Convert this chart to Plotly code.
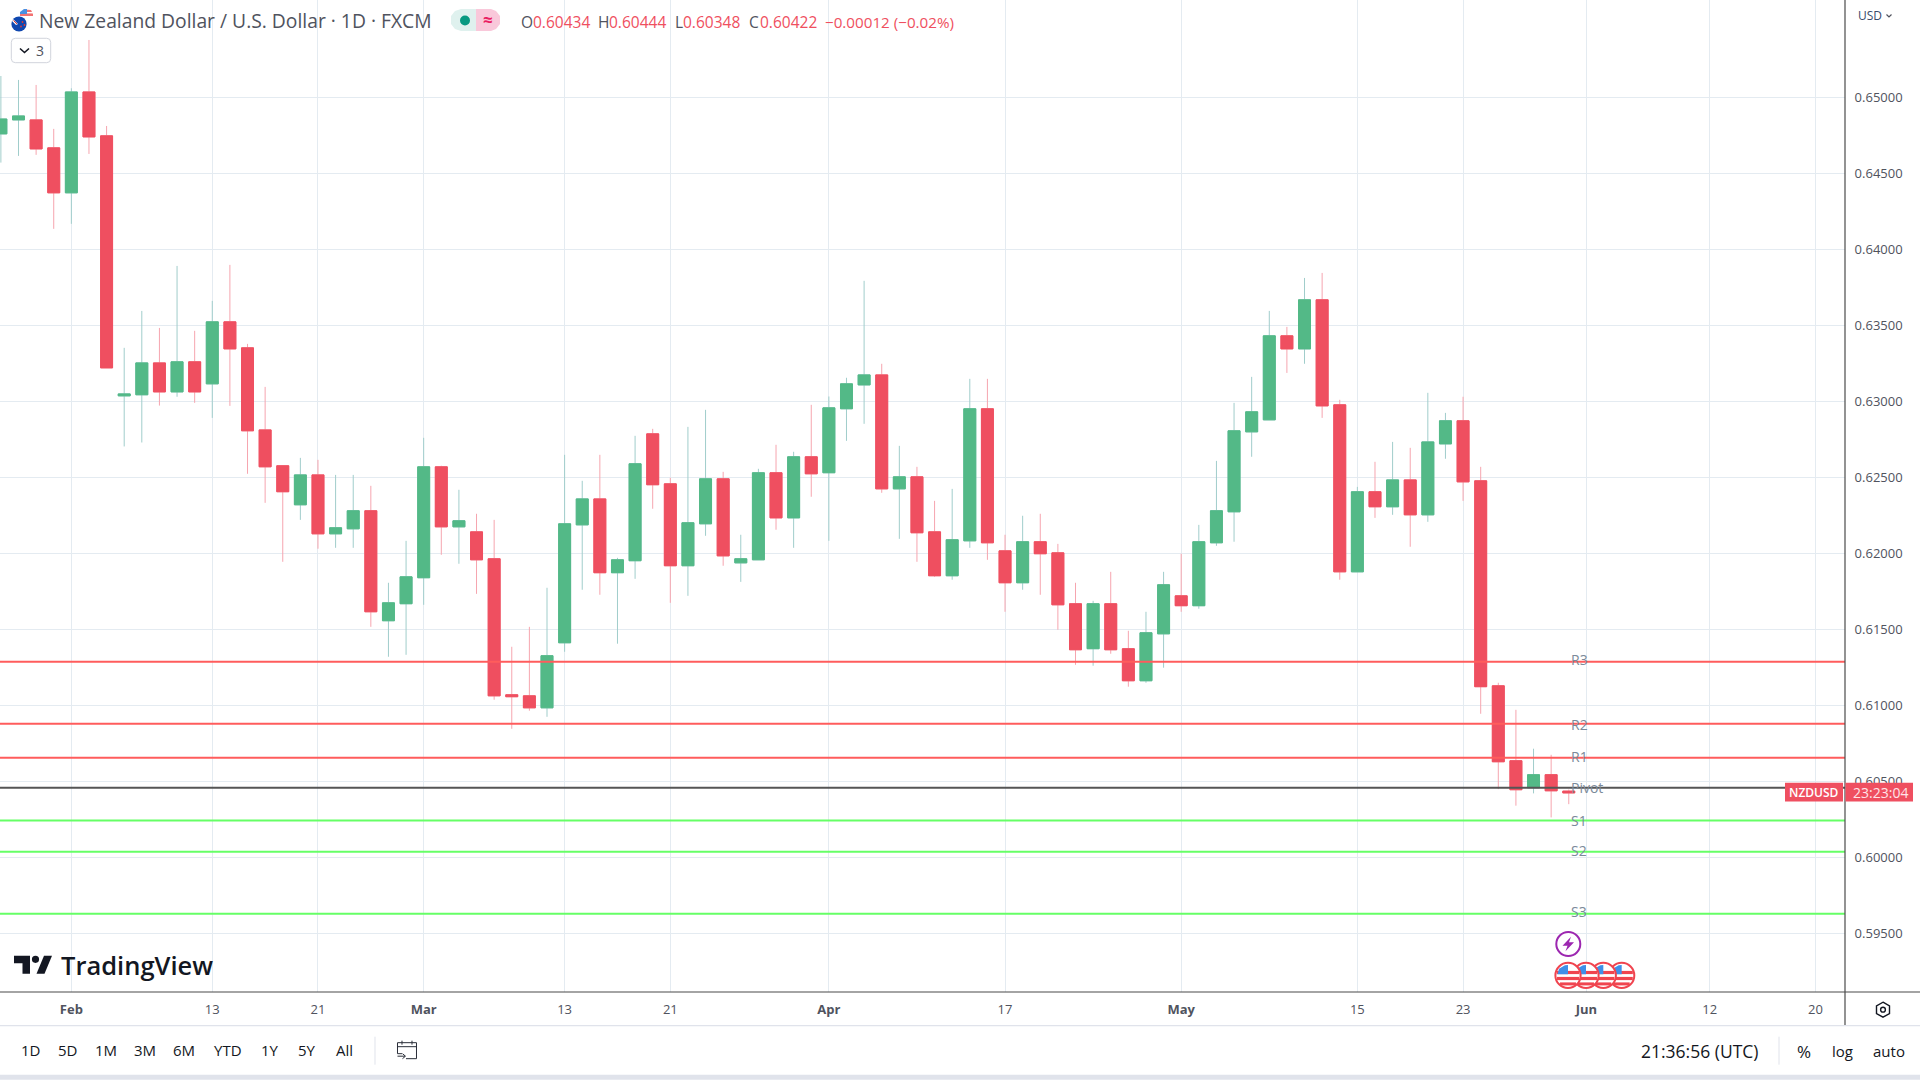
import numpy as np
import plotly.graph_objects as go

# ---------- data (prices) ----------
open_prices = [.64759,.64851,.64851,.64667,.64371,.65035,.64746,.63035,.63042,.63252,.63061,.63259,.63114,.63522,.63351,.62811,.62575,.62318,.62515,.62127,.62160,.62279,.61555,.61667,.61838,.62568,.62173,.62140,.61963,.61068,.61061,.60982,.61410,.62186,.62357,.61871,.61950,.62785,.62456,.61917,.62193,.62489,.61936,.61956,.62529,.62232,.62634,.62529,.62950,.63107,.63173,.62423,.62502,.62140,.61851,.62081,.62950,.62015,.61805,.62075,.62002,.61667,.61371,.61667,.61371,.61160,.61469,.61719,.61654,.62068,.62272,.62798,.62877,.63430,.63344,.63667,.62976,.61877,.62404,.62305,.62482,.62252,.62719,.62871,.62476,.61127,.60634,.60456,.60542,.60434]
high_prices = [.65140,.65114,.65081,.64792,.65059,.65377,.64811,.63351,.63594,.63482,.63890,.63463,.63660,.63897,.63377,.63094,.62575,.62627,.62614,.62515,.62515,.62443,.61805,.62081,.62759,.62575,.62417,.62259,.62219,.61384,.61515,.61772,.62647,.62476,.62647,.61969,.62772,.62818,.62496,.62831,.62943,.62535,.62121,.62555,.62713,.62667,.62976,.63031,.63154,.63792,.63246,.62706,.62568,.62344,.62423,.63147,.63147,.62121,.62246,.62259,.62061,.61805,.61686,.61877,.61489,.61614,.61877,.61996,.62186,.62607,.62989,.63160,.63594,.63489,.63811,.63844,.63009,.62436,.62601,.62732,.62693,.63055,.62923,.63029,.62568,.61147,.60969,.60713,.60673,.60444]
low_prices = [.64570,.64614,.64621,.64134,.64167,.64627,.63219,.62702,.62728,.62971,.63029,.62989,.62890,.62969,.62522,.62331,.61943,.62219,.62029,.62035,.62035,.61515,.61318,.61331,.61660,.61989,.61930,.61732,.61035,.60844,.60963,.60923,.61351,.61759,.61726,.61404,.61831,.62292,.61673,.61719,.62114,.61917,.61811,.61956,.62154,.62035,.62371,.62081,.62739,.62851,.62397,.62094,.61943,.61844,.61825,.62035,.61956,.61614,.61759,.61726,.61496,.61265,.61259,.61338,.61121,.61147,.61246,.61614,.61634,.62048,.62075,.62634,.62877,.63186,.63246,.62890,.61825,.61877,.62232,.62252,.62042,.62206,.62621,.62344,.60943,.60447,.60338,.60419,.60261,.60348]
close_prices = [.64857,.64877,.64660,.64371,.65035,.64739,.63219,.63048,.63252,.63061,.63259,.63061,.63522,.63344,.62805,.62568,.62404,.62515,.62127,.62167,.62279,.61614,.61673,.61844,.62568,.62173,.62213,.61956,.61061,.61055,.60982,.61325,.62193,.62357,.61871,.61956,.62588,.62450,.61917,.62200,.62489,.61982,.61963,.62529,.62232,.62634,.62522,.62956,.63114,.63173,.62423,.62502,.62134,.61851,.62088,.62950,.62068,.61805,.62075,.61996,.61660,.61364,.61667,.61364,.61160,.61476,.61792,.61654,.62075,.62279,.62805,.62930,.63430,.63344,.63667,.62969,.61877,.62404,.62305,.62482,.62252,.62732,.62871,.62469,.61121,.60627,.60443,.60542,.60436,.60422]

level_names = ["R3", "R2", "R1", "Pivot", "S1", "S2", "S3"]
level_values = [0.61285, 0.60877, 0.60653, 0.60456, 0.60241, 0.60035, 0.59627]

x_tick_sessions = [0, 8, 14, 20, 28, 34, 43, 53, 63, 73, 79, 86, 93, 99]
x_tick_labels = ["<b>Feb</b>", "13", "21", "<b>Mar</b>", "13", "21", "<b>Apr</b>", "17", "<b>May</b>", "15", "23", "<b>Jun</b>", "12", "20"]
y_tick_values = [0.595, 0.600, 0.605, 0.610, 0.615, 0.620, 0.625, 0.630, 0.635, 0.640, 0.645, 0.650]

range_buttons = ["1D", "5D", "1M", "3M", "6M", "YTD", "1Y", "5Y", "All"]
range_button_x = [30, 67, 106, 145, 184, 228, 270, 307, 344]

# ---------- style ----------
FONT = "Open Sans"
GREEN, RED = "#53B987", "#EF4F60"
GREEN_WICK, RED_WICK = "#A0CDCB", "#F6A5AF"
GRID = "#E4EBF1"
PW, PH = 1845.0, 992.3
sessions = np.arange(len(close_prices)) - 4
x_range = [-4.05, 100.68]
y_range = [0.59112, 0.65640]


def X(p):
    return p / PW


def Y(p):
    return 1 - p / PH


shapes, notes = [], []


def note(text, x, y, size=13, color="#50535E", anchor="center", weight=None):
    f = dict(family=FONT, size=size, color=color)
    if weight:
        f["weight"] = weight
    notes.append(dict(text=text, x=X(x), y=Y(y), xref="paper", yref="paper", xanchor=anchor, yanchor="middle",
                      showarrow=False, font=f, borderpad=0, borderwidth=0))


def rect(x0, y0, x1, y1, fill, line=None, lw=0):
    shapes.append(dict(type="rect", xref="paper", yref="paper", x0=X(x0), x1=X(x1), y0=Y(y0), y1=Y(y1),
                       fillcolor=fill, line=dict(color=line or fill, width=lw)))


def circle(cx, cy, r, fill, line=None, lw=0):
    shapes.append(dict(type="circle", xref="paper", yref="paper", x0=X(cx - r), x1=X(cx + r), y0=Y(cy - r), y1=Y(cy + r),
                       fillcolor=fill, line=dict(color=line or fill, width=lw)))


def poly(pts, fill=None, line=None, lw=0, close=True):
    d = "M" + " L".join(f"{X(a):.6f},{Y(b):.6f}" for a, b in pts) + (" Z" if close else "")
    shapes.append(dict(type="path", xref="paper", yref="paper", path=d, fillcolor=fill or "rgba(0,0,0,0)",
                       line=dict(color=line or "rgba(0,0,0,0)", width=lw)))


def hline(x0, x1, y, color, lw=1):
    poly([(x0, y), (x1, y)], line=color, lw=lw, close=False)


def vline(x, y0, y1, color, lw=1):
    poly([(x, y0), (x, y1)], line=color, lw=lw, close=False)


# ---------- figure ----------
fig = go.Figure()

for name, value in zip(level_names, level_values):
    color = "#FF5C5C" if name.startswith("R") else "#66FF66" if name.startswith("S") else "#555555"
    fig.add_trace(go.Scatter(x=x_range, y=[value, value], mode="lines", line=dict(color=color, width=2),
                             hoverinfo="skip", showlegend=False, name=name))

fig.add_trace(go.Candlestick(x=sessions, open=open_prices, high=high_prices, low=low_prices, close=close_prices,
                             increasing=dict(line=dict(color=GREEN_WICK, width=1), fillcolor=GREEN),
                             decreasing=dict(line=dict(color=RED_WICK, width=1), fillcolor=RED),
                             showlegend=False, name="wicks"))
body_top = np.maximum(open_prices, close_prices)
body_bottom = np.minimum(open_prices, close_prices)
fig.add_trace(go.Candlestick(x=sessions, open=open_prices, high=body_top, low=body_bottom, close=close_prices,
                             increasing=dict(line=dict(color=GREEN, width=1), fillcolor=GREEN),
                             decreasing=dict(line=dict(color=RED, width=1), fillcolor=RED),
                             showlegend=False, name="NZDUSD"))

# frame lines and bands
hline(0, 1920, 992.3, "#4A4A4A", 1.2)
vline(1845, 0, 1026, "#4A4A4A", 1.2)
hline(0, 1920, 1026, "#E0E3EB", 1.2)
rect(0, 1075, 1920, 1080, "#E0E3EB")
vline(375, 1037, 1065, "#E0E3EB", 1)
vline(1779, 1037, 1065, "#E0E3EB", 1)

# header: flags
circle(26.7, 16, 7, "#FFFFFF")
poly([(20, 14), (24, 9.5), (31, 10), (33, 14), (33, 16), (27, 16), (20, 16)], "#F27272")
poly([(20, 12), (24, 9), (27, 9), (27, 14), (20, 14)], "#4A90E2")
rect(27, 12, 33.5, 13.4, "#FFFFFF")
rect(28, 16, 32, 18, "#FFFFFF")
circle(19, 24, 7.6, "#0F47AF")
poly([(13, 19), (18, 24), (16, 25), (12, 21)], "#FFFFFF")
poly([(13.5, 20.5), (17, 24)], None, "#E53935", 1, close=False)
circle(22.5, 22, 0.9, "#E53935")
circle(24.5, 25, 0.9, "#E53935")
circle(21, 26.5, 0.9, "#E53935")
note("New Zealand Dollar / U.S. Dollar · 1D · FXCM", 39, 21, 19.3, "#50535E", "left")

# header: market-status pill
poly([(476, 9), (461, 9), (455, 11), (451, 16), (451, 24), (455, 29), (461, 31), (476, 31)], "#DFF1EE")
poly([(476, 9), (491, 9), (496, 11), (500, 16), (500, 24), (496, 29), (491, 31), (476, 31)], "#F9C8DA")
circle(465, 20.5, 5, "#089981")
note("≈", 488, 20, 17, "#E91E63", weight=700)

# header: OHLC
ohlc_red = "#EF4F60"
for label, lx, val, vx in [("O", 521, "0.60434", 532.5), ("H", 598, "0.60444", 609),
                           ("L", 675, "0.60348", 683), ("C", 749, "0.60422", 760)]:
    note(label, lx, 22.5, 15.5, "#50535E", "left")
    note(val, vx, 22.5, 15.5, ohlc_red, "left")
note("−0.00012 (−0.02%)", 825, 22.5, 15.2, ohlc_red, "left")

# collapse button
shapes.append(dict(type="path", xref="paper", yref="paper",
                   path=f"M{X(15.3)},{Y(38.3)} L{X(46.7)},{Y(38.3)} Q{X(50.7)},{Y(38.3)} {X(50.7)},{Y(42.3)} L{X(50.7)},{Y(58.7)} Q{X(50.7)},{Y(62.7)} {X(46.7)},{Y(62.7)} L{X(15.3)},{Y(62.7)} Q{X(11.3)},{Y(62.7)} {X(11.3)},{Y(58.7)} L{X(11.3)},{Y(42.3)} Q{X(11.3)},{Y(38.3)} {X(15.3)},{Y(38.3)} Z",
                   fillcolor="#FFFFFF", line=dict(color="#D1D4DC", width=1)))
poly([(20, 48.5), (24.5, 52.5), (29, 48.5)], None, "#131722", 1.6, close=False)
note("3", 40, 50.5, 14, "#50535E")

# USD label
note("USD", 1870, 16, 12, "#3A4A6B")
poly([(1886.5, 14.5), (1889, 17), (1891.5, 14.5)], None, "#50535E", 1.2, close=False)

# level labels
for name, y in zip(level_names, [660, 724.7, 756.7, 788, 820.7, 850.7, 911.7]):
    note(name, 1571, y, 14, "#7B8A9A", "left")

# last-price tags
rect(1785, 783, 1843, 801.7, "#EF4F60")
rect(1845.5, 783, 1913, 801.7, "#EF4F60")
note("NZDUSD", 1814, 792.5, 12, "#FFFFFF", weight=600)
note("23:23:04", 1880.5, 792.5, 14, "#FFE4E8")

# lightning marker
circle(1568.3, 944.3, 12, "#FFFFFF", "#9C27B0", 2)
poly([(1571, 937), (1562.5, 946), (1567.5, 946), (1565.5, 951.5), (1574, 942.5), (1569, 942.5)], "#9C27B0")

# economic-event flags (right one first, so that the left overlaps)
for cx in [1621.7, 1603.3, 1586, 1568]:
    circle(cx, 975.7, 12.6, "#FFFFFF", "#F0444F", 2)
    for dy, h in [(-4.5, 3.2), (1.5, 3.2), (7, 3)]:
        half = (np.sqrt(max(12 ** 2 - (dy + h / 2) ** 2, 0))) - 0.5
        rect(cx - half, 975.7 + dy, cx + half, 975.7 + dy + h, "#F0444F")
    poly([(cx - 10.5, 974.5), (cx - 9, 969), (cx - 3, 965.6), (cx + 0, 965.2), (cx + 0, 974.5)], "#3F8FE8")

# gear
poly([(1883, 1002.5), (1889.5, 1006.2), (1889.5, 1013.8), (1883, 1017.5), (1876.5, 1013.8), (1876.5, 1006.2)], None, "#131722", 1.4)
circle(1883, 1010, 2.4, "rgba(0,0,0,0)", "#131722", 1.4)

# TradingView logo
poly([(14, 956), (30, 956), (30, 974), (22.5, 974), (22.5, 963.5), (14, 963.5)], "#131722")
circle(35.5, 959.6, 3.6, "#131722")
poly([(44, 956), (52, 956), (44.5, 974), (36.5, 974)], "#131722")
note("TradingView", 61, 965, 25.5, "#131722", "left", weight=600)

# bottom toolbar
for label, x in zip(range_buttons, range_button_x):
    note(label, x, 1050.5, 15, "#131722")
poly([(402, 1054), (397.5, 1054), (397.5, 1043), (416.5, 1043), (416.5, 1059), (406, 1059)], None, "#2A2E39", 1, close=False)
hline(397.5, 416.5, 1047, "#2A2E39", 1)
vline(402, 1041, 1045, "#2A2E39", 1)
vline(412, 1041, 1045, "#2A2E39", 1)
poly([(397.5, 1056.5), (405, 1056.5)], None, "#2A2E39", 1, close=False)
poly([(402.5, 1054), (405.5, 1056.5), (402.5, 1059)], None, "#2A2E39", 1, close=False)
note("21:36:56 (UTC)", 1700, 1051, 17.5, "#131722")
note("%", 1804, 1052, 17, "#131722")
note("log", 1842, 1051, 15, "#131722")
note("auto", 1889, 1051, 15, "#131722")

fig.update_layout(
    width=1920, height=1080,
    margin=dict(l=0, r=75, t=0, b=88, pad=0, autoexpand=False),
    paper_bgcolor="#FFFFFF", plot_bgcolor="#FFFFFF",
    showlegend=False, boxgap=0.32, boxgroupgap=0, hovermode=False,
    font=dict(family=FONT, size=13, color="#50535E"),
    shapes=shapes, annotations=notes,
    xaxis=dict(range=x_range, tickmode="array", tickvals=x_tick_sessions, ticktext=x_tick_labels,
               showgrid=True, gridcolor=GRID, gridwidth=1, zeroline=False, showline=False,
               ticks="outside", ticklen=5.5, tickcolor="rgba(0,0,0,0)",
               tickfont=dict(family=FONT, size=13, color="#50535E"), rangeslider=dict(visible=False)),
    yaxis=dict(range=y_range, side="right", tickmode="array", tickvals=y_tick_values, tickformat=".5f",
               showgrid=True, gridcolor=GRID, gridwidth=1.3, zeroline=False, showline=False,
               ticks="outside", ticklen=6, tickcolor="rgba(0,0,0,0)",
               tickfont=dict(family=FONT, size=13, color="#50535E")),
)

fig.write_html("out.html", config=dict(displayModeBar=False),
               post_script="document.body.style.margin='0';document.body.style.overflow='hidden';")
